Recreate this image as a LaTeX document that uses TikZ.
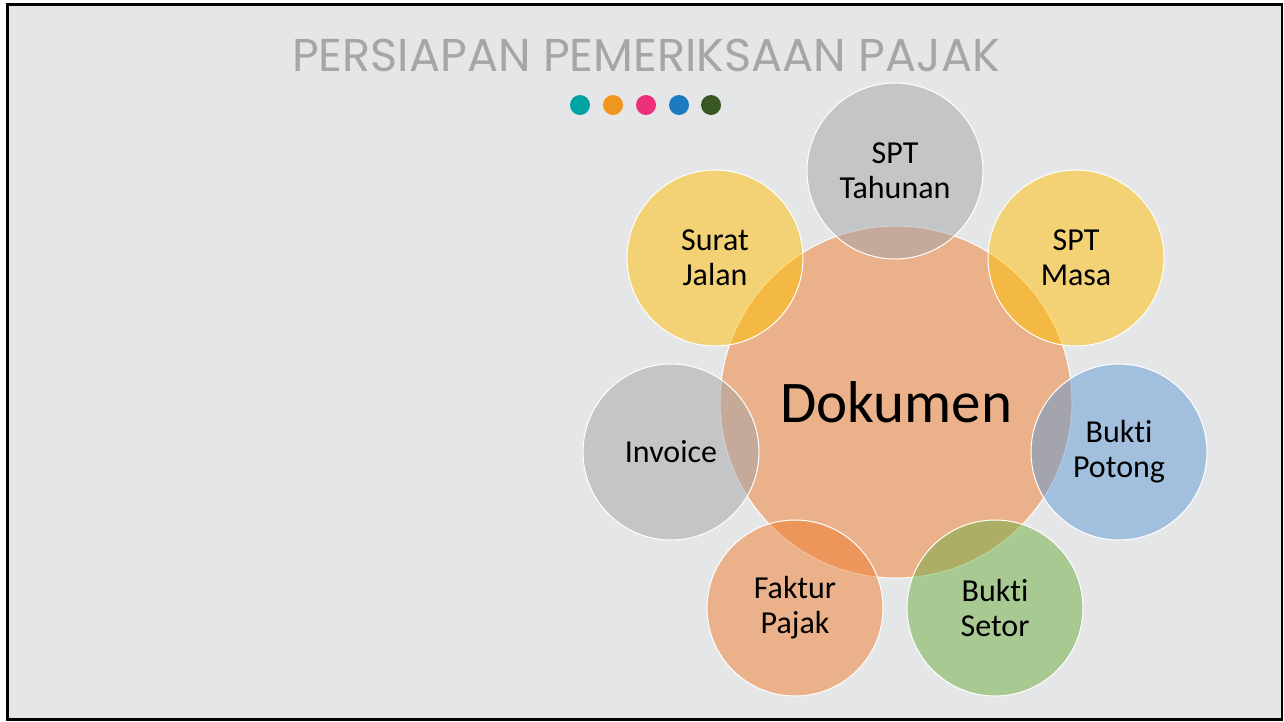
\documentclass[tikz,border=0pt]{standalone}
\usepackage{fontspec}
\usepackage{graphicx}
\setmainfont[Ligatures=CommonOff]{Carlito}
\newfontfamily\titlefont{Poppins}
\definecolor{bgcol}{HTML}{E5E6E7}
\definecolor{titlecol}{HTML}{A6A6A6}
\definecolor{hubcol}{HTML}{F07D2E}
\definecolor{greycol}{HTML}{A4A5A8}
\definecolor{goldcol}{HTML}{FFBF02}
\definecolor{bluecol}{HTML}{6099D4}
\definecolor{greencol}{HTML}{6EAD40}
\definecolor{dotteal}{HTML}{00A3A4}
\definecolor{dotorange}{HTML}{F0961F}
\definecolor{dotpink}{HTML}{EE2F7B}
\definecolor{dotblue}{HTML}{1C7BBF}
\definecolor{dotgreen}{HTML}{385723}

\begin{document}
\begin{tikzpicture}[x=1pt,y=1pt]
\tikzstyle{bubble}=[circle, draw=white, line width=1pt, fill opacity=0.5, text opacity=1, minimum size=176pt, inner sep=0pt, align=center, font=\fontsize{32}{35}\selectfont]
\tikzstyle{hub}=[bubble, minimum size=352pt, font=\fontsize{59}{65}\selectfont]
\useasboundingbox (0,0) rectangle (1284,-721);
\fill [white] (0,0) rectangle (1284,-721);
\draw [black, line width=2.5pt, fill=bgcol] (7.5,-4.5) rectangle (1282,-719.5);
\node [text=titlecol, inner sep=0pt] (title) at (646,-55) {\resizebox{708pt}{\height}{\fontsize{46}{46}\titlefont PERSIAPAN PEMERIKSAAN PAJAK}};
\fill [dotteal] (580,-105) circle (10);
\fill [dotorange] (613,-105) circle (10);
\fill [dotpink] (646,-105) circle (10);
\fill [dotblue] (679,-105) circle (10);
\fill [dotgreen] (711,-105) circle (10);
\node [hub, fill=hubcol] (dokumen) at (896,-402) {Dokumen};
\node [bubble, fill=greycol] (tahunan) at (895,-171) {SPT\\Tahunan};
\node [bubble, fill=goldcol] (masa) at (1076,-258) {SPT\\Masa};
\node [bubble, fill=bluecol] (potong) at (1119,-452) {Bukti\\Potong};
\node [bubble, fill=greencol] (setor) at (995,-608) {Bukti\\Setor};
\node [bubble, fill=hubcol] (faktur) at (795,-608) {Faktur\\Pajak};
\node [bubble, fill=greycol] (invoice) at (671,-452) {Invoice};
\node [bubble, fill=goldcol] (jalan) at (715,-258) {Surat\\Jalan};
\end{tikzpicture}
\end{document}
